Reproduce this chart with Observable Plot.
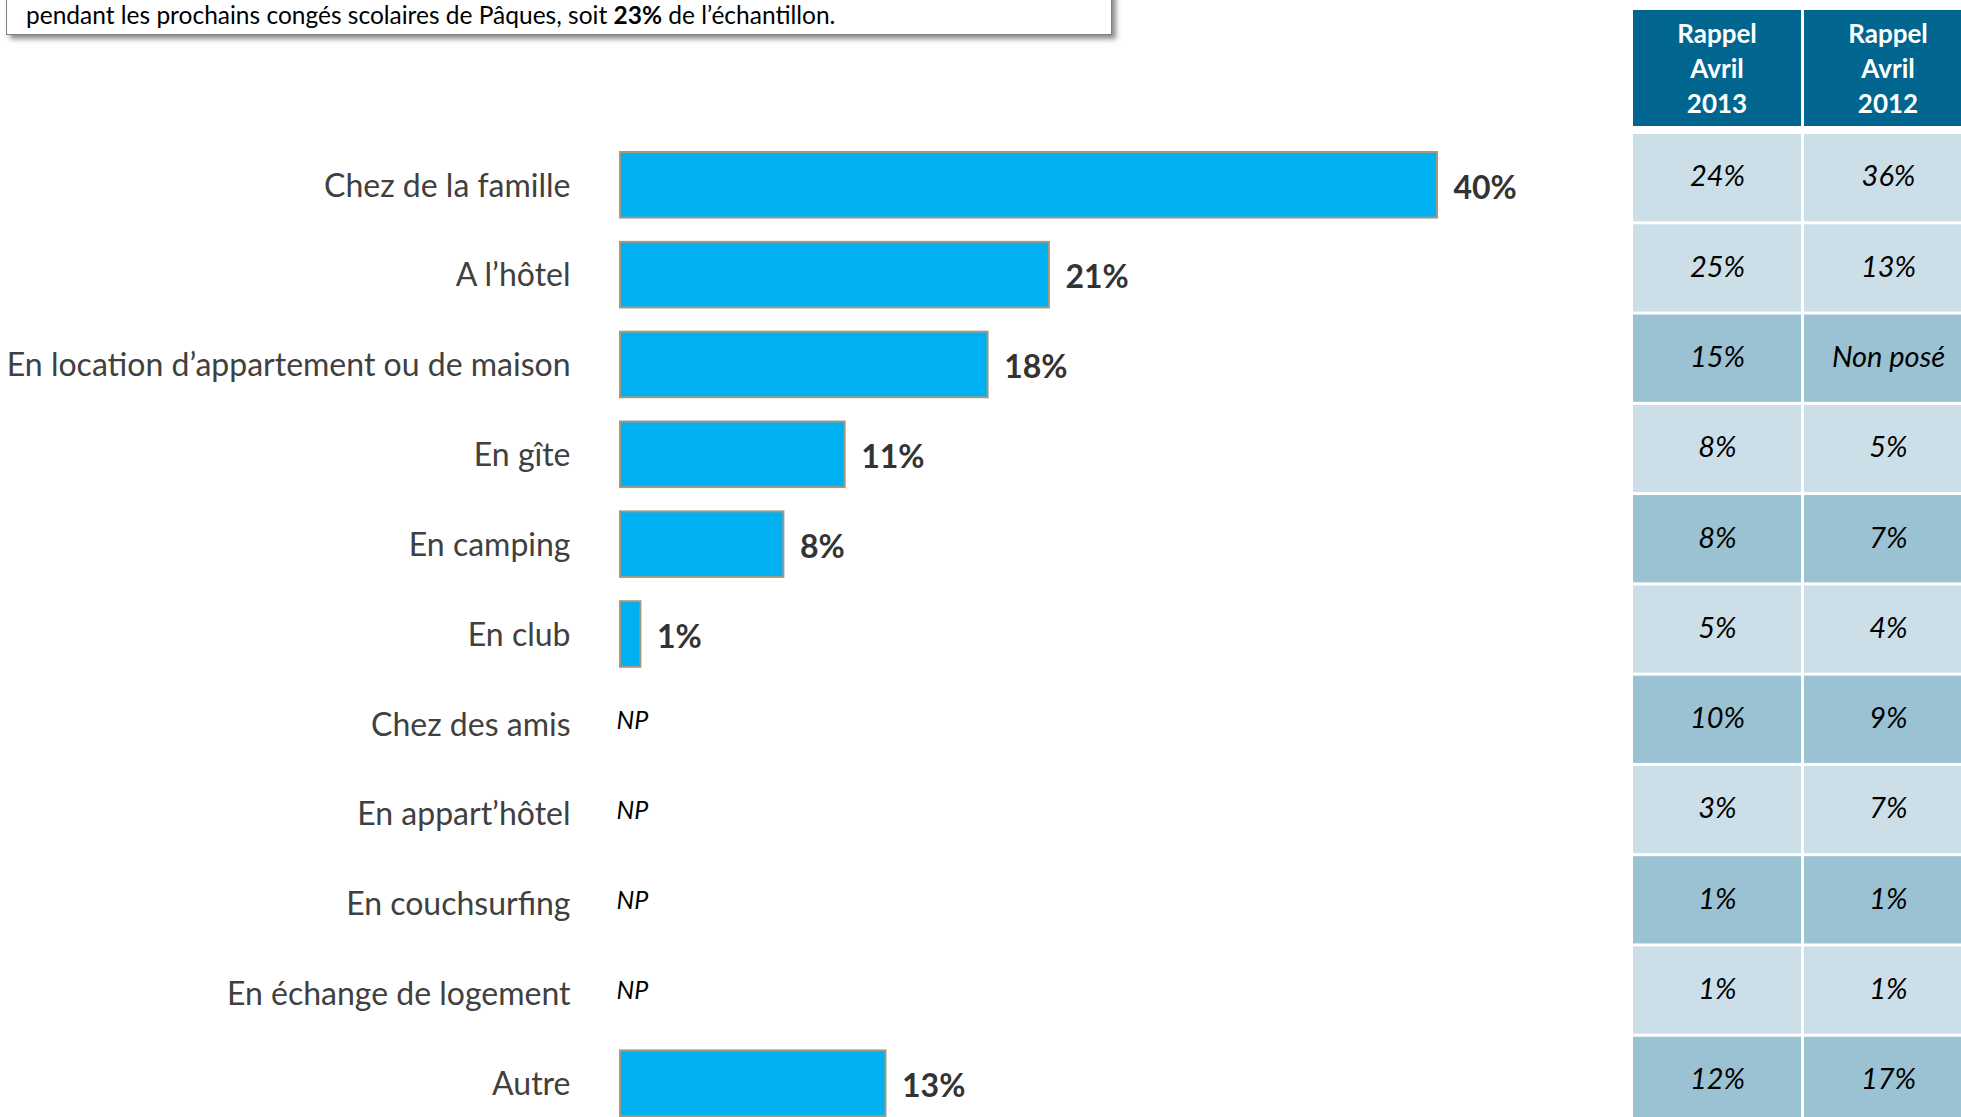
<!DOCTYPE html>
<html>
<head>
<meta charset="utf-8">
<script src="https://cdn.jsdelivr.net/npm/d3@7"></script>
<script src="https://cdn.jsdelivr.net/npm/@observablehq/plot@0.6"></script>
<style>
  html, body { margin: 0; padding: 0; background: #fff; overflow: hidden; }
  #root { position: relative; width: 1961px; height: 1117px; overflow: hidden; font-family: Lato, "Open Sans", sans-serif; }
  #note { position: absolute; left: 6px; top: -40px; width: 1106px; height: 75px; border: 1.5px solid #7f7f7f; background: #fff;
          box-shadow: 4px 4px 5px rgba(0,0,0,0.45); box-sizing: border-box; }
  #note span { position: absolute; left: 19px; bottom: 4px; font-size: 24.5px; line-height: 30px; color: #000; white-space: nowrap; }
  #bars { position: absolute; left: 0; top: 0; width: 1600px; }
  #table { position: absolute; left: 1600px; top: 0; width: 400px; }
  #bars svg, #table svg { max-width: none; display: block; }
  #header { position: absolute; left: 1633px; top: 10px; display: flex; gap: 3px; }
  #header div { width: 168px; height: 116px; background: #00668F; color: #fff; font-weight: bold; font-size: 26px;
                line-height: 35px; display: flex; align-items: center; justify-content: center; text-align: center; }
</style>
</head>
<body>
<div id="root">
  <div id="bars"></div>
  <div id="table"></div>
  <div id="header"></div>
  <div id="note"><span>pendant les prochains congés scolaires de Pâques, soit <b>23%</b> de l’échantillon.</span></div>
</div>
<script>
const categories = [
  "Chez de la famille",
  "A l’hôtel",
  "En location d’appartement ou de maison",
  "En gîte",
  "En camping",
  "En club",
  "Chez des amis",
  "En appart’hôtel",
  "En couchsurfing",
  "En échange de logement",
  "Autre"
];
const values = [40, 21, 18, 11, 8, 1, null, null, null, null, 13];
const columns = ["Rappel\nAvril\n2013", "Rappel\nAvril\n2012"];
const rappel2013 = ["24%", "25%", "15%", "8%", "8%", "5%", "10%", "3%", "1%", "1%", "12%"];
const rappel2012 = ["36%", "13%", "Non posé", "5%", "7%", "4%", "9%", "7%", "1%", "1%", "17%"];
const shade = ["light", "light", "dark", "light", "dark", "light", "dark", "light", "dark", "light", "dark"];

const bars = categories.map((c, i) => ({cat: c, v: values[i]}));
const present = bars.filter(d => d.v != null);
const missing = bars.filter(d => d.v == null);

const barPlot = Plot.plot({
  width: 1600,
  height: 1117,
  marginLeft: 620,
  marginRight: 163,
  marginTop: 152,
  marginBottom: 1,
  style: {fontFamily: "Lato, 'Open Sans', sans-serif", background: "transparent"},
  x: {domain: [0, 40], axis: null},
  y: {domain: categories, paddingInner: 0.27, paddingOuter: 0, round: false, axis: null},
  marks: [
    Plot.barX(present, {x: "v", y: "cat", fill: "#00B0F0", stroke: "#A09A84", strokeWidth: 2}),
    Plot.text(present, {x: "v", y: "cat", text: d => d.v + "%", textAnchor: "start", dx: 16, dy: 3,
      fontWeight: "bold", fontSize: 32, fill: "#333333"}),
    Plot.text(missing, {x: 0, y: "cat", text: () => "NP", textAnchor: "start", dx: -4, dy: -3,
      fontStyle: "italic", fontSize: 25, fill: "#000"}),
    Plot.text(categories, {x: 0, y: d => d, text: d => d, textAnchor: "end", dx: -50, dy: 1,
      fontSize: 32, fill: "#404040"})
  ]
});
document.getElementById("bars").appendChild(barPlot);

const cells = [];
categories.forEach((c, i) => {
  cells.push({cat: c, col: columns[0], t: rappel2013[i], s: shade[i]});
  cells.push({cat: c, col: columns[1], t: rappel2012[i], s: shade[i]});
});

const tablePlot = Plot.plot({
  width: 400,
  height: 1125,
  marginLeft: 33,
  marginRight: 28,
  marginTop: 134,
  marginBottom: 1,
  style: {fontFamily: "Lato, 'Open Sans', sans-serif", background: "transparent"},
  x: {domain: columns, paddingInner: 0.0175, paddingOuter: 0, round: false, axis: null},
  y: {domain: categories, paddingInner: 0.033, paddingOuter: 0, round: false, axis: null},
  color: {domain: ["light", "dark"], range: ["#CCDFE8", "#9AC2D3"]},
  marks: [
    Plot.cell(cells, {x: "col", y: "cat", fill: "s", inset: 0}),
    Plot.text(cells, {x: "col", y: "cat", text: "t", fontStyle: "italic", fontSize: 29, fill: "#000", dy: -1})
  ]
});
document.getElementById("table").appendChild(tablePlot);

const header = document.getElementById("header");
columns.forEach(c => {
  const d = document.createElement("div");
  d.innerHTML = c.split("\n").join("<br>");
  header.appendChild(d);
});
</script>
</body>
</html>
